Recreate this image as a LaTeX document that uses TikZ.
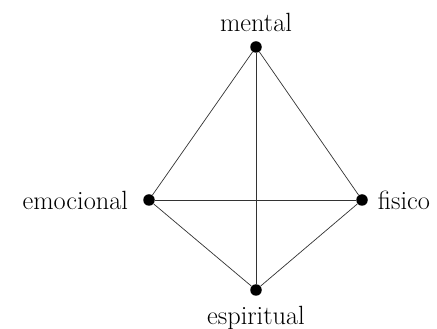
\documentclass[tikz,border=0pt]{standalone}
\usepackage{tikz}
\usetikzlibrary{positioning}

\begin{document}
\begin{tikzpicture}[dot/.style={circle, fill=black, inner sep=0pt, minimum size=0.23cm},
    lbl/.style={font=\fontsize{15}{17}\selectfont, inner sep=2pt}]
            \useasboundingbox (0,0) rectangle (8.74,6.58);
            \node[dot, label={[lbl, label distance=0.1cm]above:mental}] (m) at (5.12,5.64) {};
            \node[dot, label={[lbl, label distance=0.22cm]left:emocional}] (e) at (2.98,2.58) {};
            \node[dot, label={[lbl, label distance=0.12cm]right:fisico}] (f) at (7.24,2.58) {};
            \node[dot, label={[lbl, label distance=0.12cm]below:espiritual}] (s) at (5.12,0.78) {};

            \draw[thin, black!80] (m) -- (e);
            \draw[thin, black!80] (m) -- (f);
            \draw[thin, black!80] (m) -- (s);
            \draw[thin, black!80] (e) -- (f);
            \draw[thin, black!80] (e) -- (s);
            \draw[thin, black!80] (f) -- (s);
        \end{tikzpicture}
\end{document}
